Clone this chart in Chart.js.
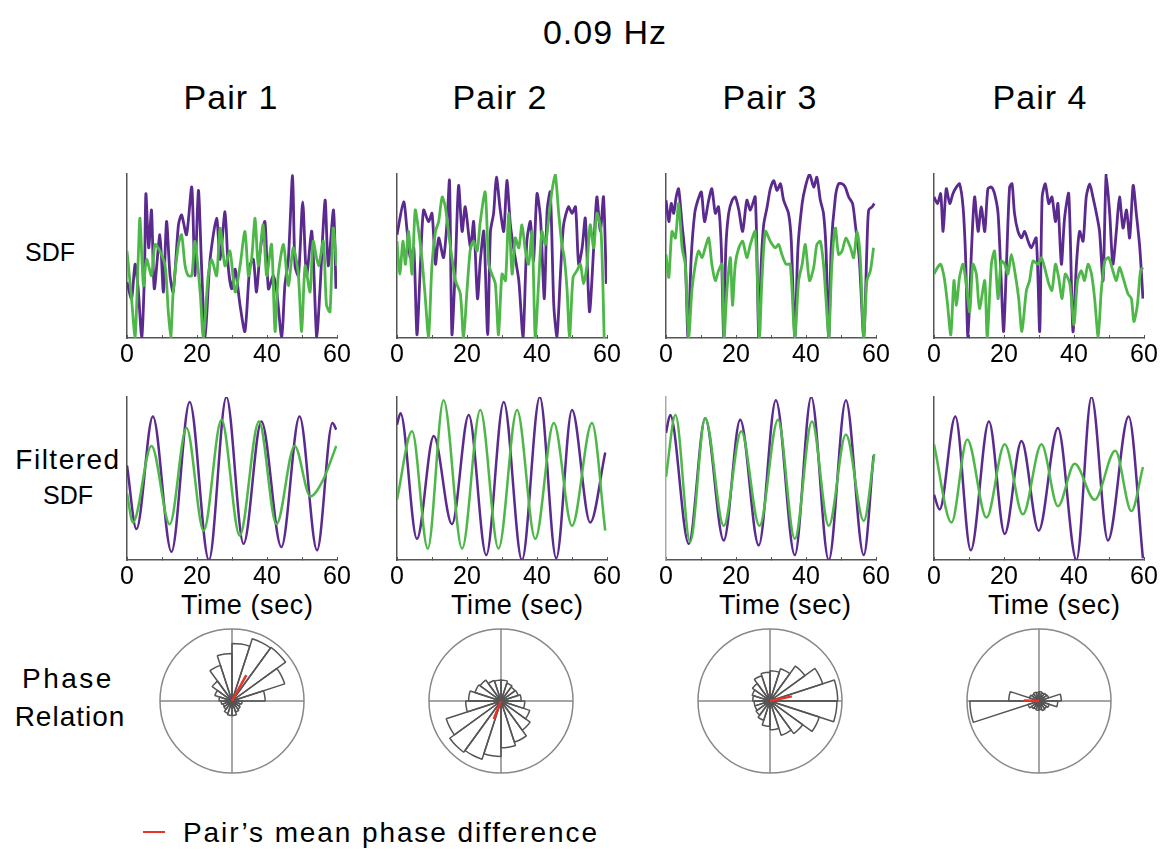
<!DOCTYPE html>
<html>
<head>
<meta charset="utf-8">
<title>0.09 Hz</title>
<script src="https://cdn.jsdelivr.net/npm/chart.js@4.4.1/dist/chart.umd.min.js"></script>
<style>
  html, body { margin: 0; padding: 0; background: #fff; }
  #page { position: relative; width: 1161px; height: 852px; overflow: hidden;
          font-family: 'Liberation Sans', Arial, sans-serif; color: #000; }
  .lbl { position: absolute; transform: translate(-50%, -50%); white-space: nowrap; line-height: 1; }
  .xt { position: absolute; transform: translateY(-50%); white-space: nowrap; line-height: 1;
        font-size: 27px; letter-spacing: 0.6px; }
  canvas { position: absolute; }
</style>
</head>
<body>
<div id="page">
  <div class="lbl" style="left:605px; top:32px; font-size:34px; letter-spacing:1px;">0.09 Hz</div>
  <div class="lbl" style="left:231px; top:97px; font-size:34px; letter-spacing:1px;">Pair 1</div>
  <div class="lbl" style="left:500px; top:97px; font-size:34px; letter-spacing:1px;">Pair 2</div>
  <div class="lbl" style="left:770px; top:97px; font-size:34px; letter-spacing:1px;">Pair 3</div>
  <div class="lbl" style="left:1040px; top:97px; font-size:34px; letter-spacing:1px;">Pair 4</div>

  <div class="lbl" style="left:50px; top:252px; font-size:25px;">SDF</div>
  <div class="lbl" style="left:68px; top:460px; font-size:28px; letter-spacing:1.5px;">Filtered</div>
  <div class="lbl" style="left:68px; top:495px; font-size:25px;">SDF</div>
  <div class="lbl" style="left:68px; top:679px; font-size:28px; letter-spacing:2.5px;">Phase</div>
  <div class="lbl" style="left:70px; top:717px; font-size:28px; letter-spacing:1px;">Relation</div>

  <div class="xt" style="left:181px; top:605px;">Time (sec)</div>
  <div class="xt" style="left:451px; top:605px;">Time (sec)</div>
  <div class="xt" style="left:719px; top:605px;">Time (sec)</div>
  <div class="xt" style="left:988px; top:605px;">Time (sec)</div>

  <div style="position:absolute; left:143px; top:831px; width:22px; height:2px; background:#e8332a;"></div>
  <div class="lbl" style="left:183px; top:833px; transform:translateY(-50%); font-size:28px; letter-spacing:1.9px;">Pair’s mean phase difference</div>
</div>

<script>
const timeTicks = [0, 10, 20, 30, 40, 50, 60];
const labelEvery = 20;

// raw spike density, [time (s), rate normalised 0-100]
const sdfPurple1 = [[0,34],[1.3,24],[2.3,45],[3.2,30],[4.2,0],[5.0,40],[5.4,88],[6.2,55],[7.0,78],[7.8,30],[9.4,63],[10.4,28],[11.3,71],[12.3,38],[13.2,28],[14.7,69],[15.6,75],[17.0,63],[18.5,92],[19.4,38],[20.4,90],[21.3,44],[22.3,0],[23.7,47],[25.6,73],[26.6,48],[28.0,77],[28.9,44],[29.9,30],[30.9,42],[32.3,20],[33.7,4],[35.1,44],[36.1,48],[37.0,28],[38.0,52],[39.4,71],[40.4,30],[41.8,38],[42.8,28],[44.2,0],[45.1,32],[46.1,48],[47.3,99],[48.0,44],[49.0,38],[50.2,83],[51.3,38],[52.8,65],[54.2,0],[55.1,28],[56.6,84],[57.5,44],[59.0,78],[59.7,30]];
const sdfGreen1 = [[0,53],[1.3,24],[2.3,0],[3.2,48],[3.7,73],[4.7,32],[5.6,48],[7.0,38],[8.0,57],[9.4,53],[10.9,44],[11.8,16],[12.5,0],[13.2,28],[14.7,57],[15.6,63],[16.6,44],[17.5,38],[18.5,38],[19.4,59],[20.9,28],[21.8,0],[23.2,38],[24.2,48],[25.6,38],[26.6,67],[28.0,44],[29.4,53],[30.9,28],[32.3,44],[33.7,65],[34.7,38],[35.6,48],[36.6,73],[37.5,44],[38.9,69],[39.9,38],[41.3,57],[42.3,4],[43.2,38],[44.7,57],[46.1,32],[47.5,55],[48.9,40],[49.9,4],[50.9,44],[52.3,28],[53.2,59],[54.7,44],[56.1,59],[57.0,20],[58.0,16],[58.9,67],[59.9,44]];

const sdfPurple2 = [[0,63],[1.9,83],[2.9,65],[3.8,49],[4.8,55],[5.7,2],[6.7,45],[7.6,78],[9.0,71],[10.0,76],[11.0,45],[11.9,61],[13.3,49],[14.3,71],[15.0,96],[15.7,2],[16.7,45],[17.6,93],[18.6,65],[19.5,80],[21.0,55],[21.9,71],[23.0,24],[23.8,47],[24.8,65],[25.9,2],[26.7,65],[27.6,76],[28.4,98],[29.5,78],[30.5,65],[31.4,96],[32.4,69],[33.3,55],[34.8,35],[36.0,0],[37.1,59],[38.1,71],[39.0,47],[40.0,88],[41.0,73],[42.1,24],[42.9,78],[43.8,89],[44.8,20],[45.7,1],[46.7,39],[47.6,69],[49.0,80],[50.0,76],[51.0,80],[51.9,45],[52.9,55],[53.8,73],[55.0,16],[56.2,55],[57.1,86],[58.1,65],[59.0,86],[59.8,33]];
const sdfGreen2 = [[0,59],[0.8,39],[1.7,59],[2.4,45],[3.3,65],[4.3,39],[5.2,78],[6.2,65],[7.1,49],[8.1,24],[9.0,0],[10.0,45],[11.0,65],[11.9,71],[12.9,86],[13.8,80],[14.8,63],[15.7,49],[16.7,35],[18.1,27],[19.0,0],[20.0,29],[21.0,55],[21.9,59],[22.9,53],[23.8,71],[25.2,89],[26.2,45],[27.1,39],[28.1,33],[29.0,2],[30.0,39],[31.0,35],[31.9,76],[32.9,39],[33.8,61],[34.8,55],[35.7,69],[36.7,53],[37.6,45],[38.6,65],[39.5,0],[40.5,35],[41.4,65],[42.4,57],[43.6,78],[44.3,90],[45.2,100],[46.2,76],[47.1,57],[47.8,49],[48.6,29],[49.3,0],[50.3,37],[51.4,41],[52.4,45],[53.3,33],[54.3,45],[55.2,69],[56.2,55],[57.1,76],[58.3,65],[59.2,0]];

const sdfPurple3 = [[0,84],[0.8,71],[1.5,82],[2.2,76],[2.9,86],[3.6,91],[4.6,69],[5.5,49],[6.3,0],[7.2,49],[8.2,76],[9.1,84],[10.1,89],[11.0,71],[12.2,84],[13.1,91],[14.1,76],[15.0,80],[15.8,55],[16.5,0],[17.1,55],[17.9,76],[18.9,84],[19.8,86],[20.8,78],[21.9,65],[23.1,84],[24.1,78],[25.5,86],[26.5,0],[27.2,45],[27.9,69],[28.9,80],[29.8,91],[30.8,96],[31.7,90],[32.7,94],[33.6,84],[35.0,76],[35.8,59],[36.8,0],[37.7,55],[38.9,82],[39.8,92],[41.0,100],[42.2,92],[43.1,98],[44.1,84],[45.0,76],[45.7,55],[46.5,0],[47.2,55],[48.4,86],[49.3,94],[50.3,94],[51.2,92],[52.2,86],[53.3,82],[54.1,69],[55.2,49],[56.5,0],[57.4,55],[57.9,78],[58.9,80],[59.5,82]];
const sdfGreen3 = [[0,51],[0.8,37],[1.7,65],[2.7,61],[3.6,82],[4.6,55],[5.5,45],[6.5,0],[7.4,29],[8.4,45],[9.3,53],[10.3,49],[11.2,55],[12.2,61],[13.1,45],[14.1,35],[15.0,41],[16.0,45],[16.6,0],[17.4,29],[18.4,49],[19.0,20],[19.8,45],[20.8,55],[21.9,59],[23.1,49],[24.1,57],[25.5,65],[26.7,0],[27.4,35],[28.4,65],[29.8,59],[31.2,55],[32.2,57],[33.1,51],[34.3,45],[35.5,45],[36.8,0],[37.9,35],[38.9,45],[39.8,57],[41.0,35],[42.2,43],[43.1,57],[44.1,59],[45.0,45],[45.7,24],[46.5,0],[47.4,45],[48.4,67],[49.3,51],[50.3,53],[51.4,61],[52.7,55],[53.6,49],[54.6,65],[55.5,49],[56.5,0],[57.4,35],[58.4,41],[59.3,55]];

const sdfPurple4 = [[0,86],[1.0,82],[1.9,88],[2.6,65],[3.5,91],[4.5,82],[5.4,88],[6.4,92],[7.3,94],[8.3,80],[9.0,51],[9.7,0],[10.7,53],[11.6,86],[12.6,65],[13.5,80],[14.5,65],[15.4,91],[16.4,92],[17.3,88],[18.3,76],[19.2,35],[19.9,4],[20.7,45],[21.6,92],[22.3,94],[23.0,76],[24.0,65],[25.0,61],[25.9,65],[26.9,59],[27.8,55],[29.2,61],[30.2,4],[30.9,86],[31.8,94],[32.8,82],[33.7,86],[34.7,71],[35.4,82],[36.4,45],[37.3,73],[38.5,88],[39.7,4],[40.7,45],[41.6,65],[42.6,59],[43.5,86],[44.5,94],[45.4,86],[46.4,76],[47.3,65],[48.3,35],[49.2,100],[50.2,76],[51.1,45],[52.1,65],[53.0,86],[54.0,67],[55.0,78],[55.9,61],[56.9,93],[57.8,76],[58.8,55],[59.7,24]];
const sdfGreen4 = [[0,39],[1.0,43],[1.9,45],[2.9,37],[3.8,22],[4.8,2],[5.7,35],[6.4,20],[7.3,37],[8.3,45],[9.2,33],[10.2,16],[11.1,45],[12.1,39],[13.0,18],[14.5,35],[15.2,0],[16.4,45],[17.3,53],[18.3,24],[19.2,47],[20.2,45],[21.1,39],[22.1,51],[23.2,39],[24.2,24],[25.1,4],[26.4,29],[27.3,35],[28.3,47],[29.7,45],[30.7,49],[31.6,43],[32.8,33],[33.7,29],[34.7,45],[35.6,37],[36.6,24],[37.5,39],[38.8,33],[40.0,8],[41.0,35],[42.1,41],[43.0,35],[44.0,45],[45.0,39],[45.9,24],[46.9,1],[47.8,29],[48.8,47],[49.9,49],[51.1,41],[52.1,35],[53.0,43],[54.0,37],[55.4,27],[56.4,24],[57.1,10],[58.1,20],[59.0,41],[59.7,43]];

// band-pass filtered SDF, turning points [time (s), value 0-100]
const filtPurple1 = [[0,58],[2.7,19],[7.4,88],[12.7,5],[17.9,97],[23.4,0],[28.4,100],[33.3,10],[38.4,85],[44.1,8],[49.3,88],[54.3,6],[58.7,84],[59.8,80]];
const filtGreen1 = [[0,41],[1.7,23],[7.0,70],[12.2,22],[17.0,81],[21.9,18],[27.0,86],[32.2,15],[37.7,85],[42.7,22],[47.9,70],[52.4,39],[56.0,49],[59.8,70]];
const filtPurple2 = [[0,83],[1.0,90],[5.7,13],[10.5,76],[15.7,22],[20.5,89],[25.5,3],[30.5,97],[35.7,0],[40.8,100],[45.5,1],[50.0,92],[55.2,23],[59.5,66]];
const filtGreen2 = [[0,37],[4.3,79],[8.8,7],[13.3,98],[18.6,7],[23.8,92],[29.0,7],[34.3,92],[39.5,13],[44.8,84],[50.0,21],[55.7,84],[59.5,18]];
const filtPurple3 = [[0,78],[1.2,89],[6.5,10],[11.2,87],[16.5,12],[21.2,86],[26.5,9],[31.4,98],[36.8,3],[41.5,100],[46.5,0],[51.4,98],[56.5,3],[59.3,64]];
const filtGreen3 = [[0,51],[2.7,89],[6.9,11],[11.2,87],[16.5,21],[21.5,79],[26.7,21],[32.0,86],[36.8,13],[41.7,85],[46.5,21],[51.4,77],[56.5,24],[59.5,65]];
const filtPurple4 = [[0,40],[1.6,31],[6.1,88],[10.5,6],[15.7,85],[20.2,16],[25.0,73],[29.9,18],[35.4,81],[40.7,0],[45.0,100],[49.7,12],[55.6,88],[59.7,1]];
const filtGreen4 = [[0,71],[5.0,23],[9.5,74],[15.0,26],[20.2,71],[25.4,28],[30.7,71],[35.4,33],[40.2,59],[45.9,37],[51.8,67],[56.4,30],[59.7,57]];

// phase-difference rose, 20 bins of 18 deg counter-clockwise from 0 deg (share of max radius)
const roseBins1 = [46,77,92,91,80,66,52,34,25,18,15,13,14,18,20,20,16,14,12,14];
const roseBins2 = [28,25,24,26,29,29,30,36,38,45,49,80,88,85,77,65,60,50,42,33];
const roseBins3 = [94,77,60,47,42,40,37,30,26,24,22,22,24,28,35,40,50,56,72,93];
const roseBins4 = [31,14,13,12,13,12,13,12,14,42,96,16,13,12,13,12,14,13,15,26];
// mean phase difference per pair: angle (deg) and resultant length
const meanAngle = [61, 248, 12, 178];
const meanLength = [41, 27, 31, 21];

const PURPLE = '#5b2a8e';
const GREEN = '#4db848';
const RED = '#e8332a';

Chart.defaults.font.family = "'Liberation Sans', Arial, sans-serif";
Chart.defaults.color = '#000';

const page = document.getElementById('page');

function place(left, top, w, h) {
  const c = document.createElement('canvas');
  c.width = w;
  c.height = h;
  c.style.left = left + 'px';
  c.style.top = top + 'px';
  c.style.width = w + 'px';
  c.style.height = h + 'px';
  page.appendChild(c);
  return c;
}

const toXY = arr => arr.map(([x, y]) => ({ x, y }));

function traceChart(canvas, purple, green, smooth, axisColor) {
  const line = (data, color, order) => ({
    data: toXY(data),
    borderColor: color,
    borderWidth: smooth ? 2.5 : 2.8,
    pointRadius: 0,
    order: order,
    tension: smooth ? 0 : 0.25,
    cubicInterpolationMode: smooth ? 'monotone' : 'default'
  });
  return new Chart(canvas, {
    type: 'line',
    data: { datasets: [line(purple, PURPLE, 2), line(green, GREEN, 1)] },
    options: {
      responsive: false,
      animation: false,
      devicePixelRatio: 1,
      layout: { padding: { left: 30, right: 30, top: 6, bottom: 0 } },
      plugins: { legend: { display: false }, tooltip: { enabled: false } },
      scales: {
        x: {
          type: 'linear', min: timeTicks[0], max: timeTicks[timeTicks.length - 1],
          afterBuildTicks: s => { s.ticks = timeTicks.map(v => ({ value: v })); },
          ticks: {
            font: { size: 25 }, padding: 5, maxRotation: 0, autoSkip: false, color: '#000',
            callback: v => (v % labelEvery === 0 ? v : '')
          },
          grid: { display: true, drawOnChartArea: false, drawTicks: true, tickLength: -3, tickColor: '#555', tickWidth: 1 },
          border: { color: '#555', width: 1.5 },
          afterFit: s => { s.height = 36; }
        },
        y: {
          min: 0, max: 100,
          ticks: { display: false },
          grid: { display: false, drawTicks: false },
          border: { color: axisColor, width: 1.5 },
          afterFit: s => { s.width = 0; }
        }
      }
    }
  });
}

const meanLinePlugin = {
  id: 'meanLine',
  afterDatasetsDraw(chart, args, opts) {
    const scale = chart.scales.r;
    const n = chart.data.labels.length;
    const idx = ((360 - opts.angle) % 360) / (360 / n);
    const p = scale.getPointPositionForValue(idx, opts.length);
    const ctx = chart.ctx;
    ctx.save();
    ctx.strokeStyle = RED;
    ctx.lineWidth = 2.5;
    ctx.beginPath();
    ctx.moveTo(scale.xCenter, scale.yCenter);
    ctx.lineTo(p.x, p.y);
    ctx.stroke();
    ctx.restore();
  }
};

function roseChart(canvas, bins, angle, length) {
  const n = bins.length;
  // chart goes clockwise from east, bins are counter-clockwise
  const labels = bins.map((_, i) => (360 - (i + 1) * 360 / n) + '°').reverse();
  return new Chart(canvas, {
    type: 'polarArea',
    data: {
      labels: labels,
      datasets: [{
        data: bins.slice().reverse(),
        backgroundColor: 'rgba(255,255,255,0)',
        borderColor: '#555',
        borderWidth: 1.5
      }]
    },
    options: {
      responsive: false,
      animation: false,
      devicePixelRatio: 1,
      layout: { padding: 3 },
      plugins: {
        legend: { display: false },
        tooltip: { enabled: false },
        meanLine: { angle: angle, length: length }
      },
      scales: {
        r: {
          min: 0, max: 100, startAngle: 90,
          ticks: { display: false, stepSize: 100 },
          grid: { color: '#888', lineWidth: 1.5 },
          angleLines: {
            display: true, lineWidth: 1.5,
            color: c => (c.index % (n / 4) === 0 ? '#888' : 'rgba(0,0,0,0)')
          },
          pointLabels: { display: false }
        }
      }
    },
    plugins: [meanLinePlugin]
  });
}

const axisX = [127, 397, 666, 934];
const roseX = [232, 501, 770, 1039];
const sdfP = [sdfPurple1, sdfPurple2, sdfPurple3, sdfPurple4];
const sdfG = [sdfGreen1, sdfGreen2, sdfGreen3, sdfGreen4];
const filtP = [filtPurple1, filtPurple2, filtPurple3, filtPurple4];
const filtG = [filtGreen1, filtGreen2, filtGreen3, filtGreen4];
const roses = [roseBins1, roseBins2, roseBins3, roseBins4];

for (let i = 0; i < 4; i++) {
  traceChart(place(axisX[i] - 30, 168, 270, 206), sdfP[i], sdfG[i], false, '#555');
  traceChart(place(axisX[i] - 30, 391, 270, 205), filtP[i], filtG[i], true, i === 2 ? '#aaa' : '#555');
  roseChart(place(roseX[i] - 75, 626, 150, 150), roses[i], meanAngle[i], meanLength[i]);
}
</script>
</body>
</html>
